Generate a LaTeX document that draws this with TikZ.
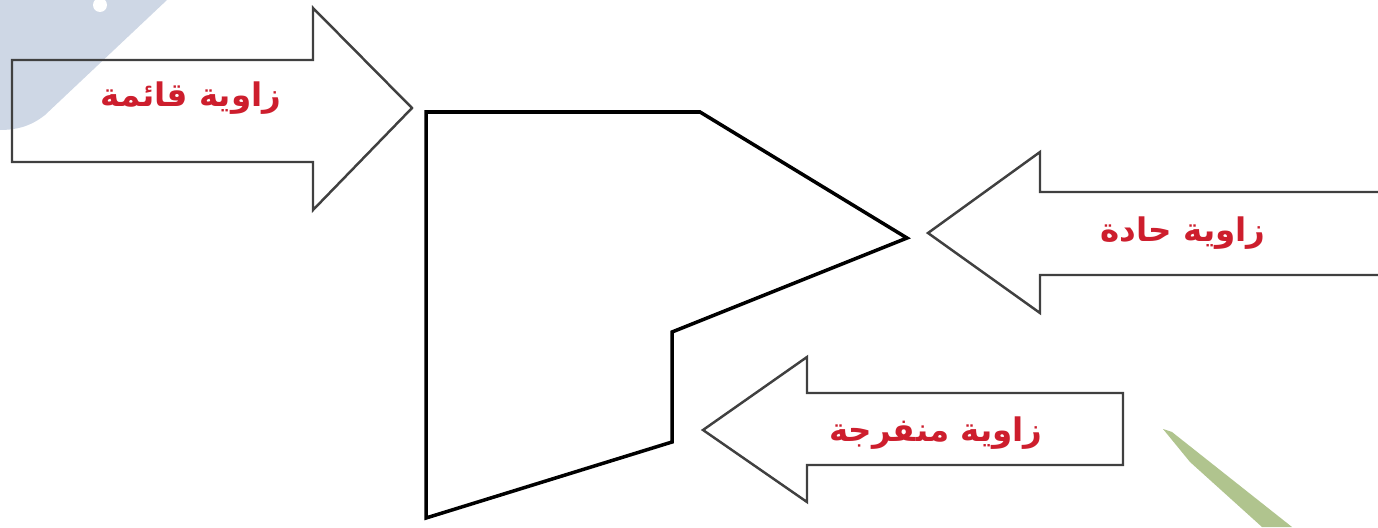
\documentclass[tikz,border=0pt]{standalone}
\usepackage{fontspec}
\newfontfamily\arabicfont[Script=Arabic]{DejaVu Sans}
\TeXXeTstate=1
\definecolor{labelred}{RGB}{205,30,45}
\definecolor{markblue}{RGB}{206,215,229}
\definecolor{leafgreen}{RGB}{176,196,142}

\begin{document}
\begin{tikzpicture}[x=0.02cm, y=-0.02cm, line join=miter,
  blockarrow/.style={draw=black!75, line width=1.4pt},
  lbl/.style={text=labelred, font=\arabicfont\bfseries\fontsize{18.5}{22}\selectfont, inner sep=0pt}]
  \useasboundingbox (0,0) rectangle (1378,527);
  \fill[markblue] (0,0) -- (167,0) -- (45,115) .. controls (30,127) and (15,130) .. (0,130) -- cycle;
  \fill[white] (100,5) circle (7);
  \fill[leafgreen] (1163,429) -- (1172,432) -- (1292,527) -- (1262,527) -- (1190,462) -- cycle;

  \draw[line width=2pt] (426,112) -- (700,112) -- (907,238) -- (672,332) -- (672,442) -- (426,518) -- cycle;

  \draw[blockarrow] (12,60) -- (313,60) -- (313,8) -- (412,108) -- (313,210) -- (313,162) -- (12,162) -- cycle;
  \draw[blockarrow] (1385,192) -- (1040,192) -- (1040,152) -- (928,233) -- (1040,313) -- (1040,275) -- (1385,275);
  \draw[blockarrow] (1123,393) -- (807,393) -- (807,357) -- (703,430) -- (807,502) -- (807,465) -- (1123,465) -- cycle;

  \node[lbl] (rightlbl) at (191,98) {\beginR زاوية قائمة\endR};
  \node[lbl] (acutelbl) at (1183,233) {\beginR زاوية حادة\endR};
  \node[lbl] (obtuselbl) at (936,433) {\beginR زاوية منفرجة\endR};
\end{tikzpicture}
\end{document}
